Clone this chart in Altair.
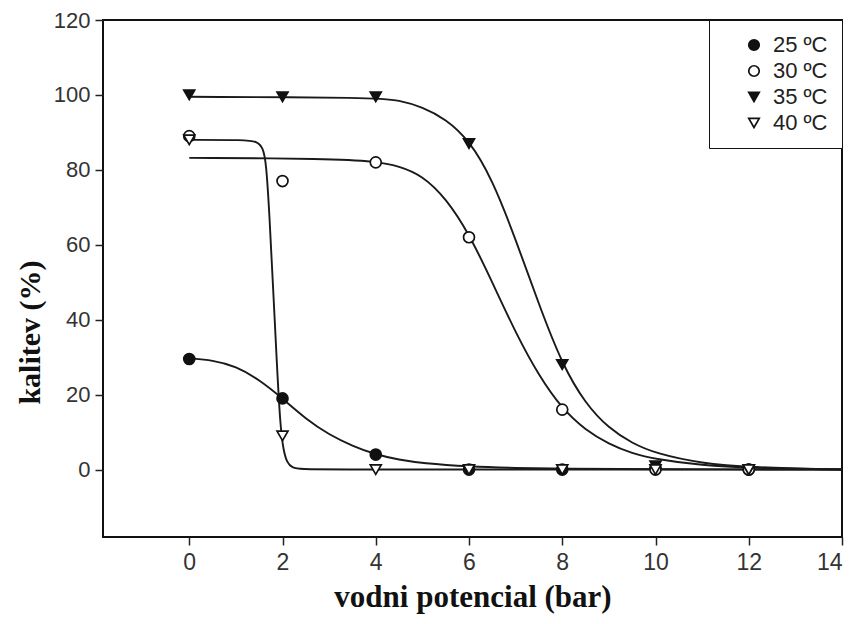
import altair as alt
import pandas as pd

series_names = ["25 ºC", "30 ºC", "35 ºC", "40 ºC"]

# measured points (x = water potential in bar, y = germination %)
pt_x = [0, 2, 4, 6, 8, 10, 12]
pt_25 = [29.5, 19, 4, 0, 0, 0.5, 0]
pt_30 = [89, 77, 82, 62, 16, 0, 0]
pt_35 = [100, 99.5, 99.5, 87, 28, 1, 0]
pt_40 = [88, 9, 0, 0, 0, 0, 0]

# fitted curves
c25_x = [0, 0.5, 1.0, 1.5, 2.0, 2.5, 3.0, 3.5, 4.0, 4.5, 5.0, 6.0, 7.0, 8.0, 10.0, 14.0]
c25_y = [29.7, 29.2, 27.6, 24.0, 19.0, 13.5, 9.3, 6.3, 4.0, 2.6, 1.7, 0.8, 0.4, 0.2, 0.05, 0]

c30_x = [0, 3.0, 4.0, 4.5, 5.0, 5.5, 6.0, 6.5, 7.0, 7.5, 8.0, 8.5, 9.0, 9.5, 10.0, 11.0, 12.0, 14.0]
c30_y = [83.2, 83.0, 82.3, 81.0, 78.5, 72.5, 63.0, 50.0, 36.5, 25.0, 16.2, 10.5, 6.8, 4.3, 2.8, 1.1, 0.4, 0]

c35_x = [0, 4.0, 4.5, 5.0, 5.5, 6.0, 6.5, 7.0, 7.5, 8.0, 8.5, 9.0, 9.5, 10.0, 11.0, 12.0, 14.0]
c35_y = [99.5, 99.3, 98.6, 96.8, 93.6, 88.0, 77.5, 61.5, 44.0, 28.0, 17.5, 11.0, 7.0, 4.3, 1.6, 0.6, 0]

c40_x = [0, 1.2, 1.45, 1.58, 1.65, 1.72, 1.8, 1.88, 1.95, 2.02, 2.1, 2.2, 2.4, 3.0, 14.0]
c40_y = [88, 88, 87.6, 86, 82, 68, 48, 28, 12, 5, 1.8, 0.5, 0.1, 0, 0]

x_ticks = [0, 2, 4, 6, 8, 10, 12, 14]
y_ticks = [0, 20, 40, 60, 80, 100, 120]

pts = pd.DataFrame(
    [{"series": s, "x": x, "y": y}
     for s, ys in zip(series_names, [pt_25, pt_30, pt_35, pt_40])
     for x, y in zip(pt_x, ys)]
)
curves = pd.DataFrame(
    [{"series": s, "x": x, "y": y}
     for s, xs, ys in zip(series_names, [c25_x, c30_x, c35_x, c40_x], [c25_y, c30_y, c35_y, c40_y])
     for x, y in zip(xs, ys)]
)

xscale = alt.Scale(domain=[-1.85, 14], nice=False, zero=False)
yscale = alt.Scale(domain=[-18, 120], nice=False, zero=False)

xaxis = alt.Axis(values=x_ticks, grid=False, domain=False, ticks=True, tickSize=8,
                 tickColor="#222", tickWidth=1.5, labelFontSize=23, labelFont="Liberation Sans",
                 labelColor="#333", labelPadding=6, title="vodni potencial (bar)",
                 titleFont="Liberation Serif", titleFontSize=31, titleFontWeight="bold",
                 titleColor="#111", titlePadding=8)
yaxis = alt.Axis(values=y_ticks, grid=False, domain=False, ticks=True, tickSize=8,
                 tickColor="#222", tickWidth=1.5, labelFontSize=22, labelFont="Liberation Sans",
                 labelColor="#333", labelPadding=5, title="kalitev (%)",
                 titleFont="Liberation Serif", titleFontSize=30, titleFontWeight="bold",
                 titleColor="#111", titlePadding=8, titleY=312)

lines = alt.Chart(curves).mark_line(interpolate="basis", color="#1a1a1a", strokeWidth=1.9).encode(
    x=alt.X("x:Q", scale=xscale, axis=xaxis),
    y=alt.Y("y:Q", scale=yscale, axis=yaxis),
    detail="series:N",
    order="x:Q",
)

points = alt.Chart(pts).mark_point(filled=True, strokeWidth=1.7, opacity=1, size=120).encode(
    x=alt.X("x:Q", scale=xscale),
    y=alt.Y("y:Q", scale=yscale),
    shape=alt.Shape("series:N",
                    scale=alt.Scale(domain=series_names,
                                    range=["circle", "circle", "triangle-down", "triangle-down"]),
                    legend=alt.Legend(title=None)),
    fill=alt.Fill("series:N",
                  scale=alt.Scale(domain=series_names, range=["#111", "white", "#111", "white"]),
                  legend=alt.Legend(title=None)),
    stroke=alt.Stroke("series:N",
                      scale=alt.Scale(domain=series_names, range=["#111", "#111", "#111", "#111"]),
                      legend=alt.Legend(title=None)),
)

chart = (lines + points).properties(
    width=739, height=517,
    autosize=alt.AutoSizeParams(type="none"),
    padding={"left": 95, "top": 12, "right": 5, "bottom": 85},
).configure_view(
    stroke="#111", strokeWidth=2
).configure_legend(
    orient="top-right", offset=0, padding=14, strokeColor="#111", fillColor="white",
    labelFontSize=22, labelFont="Liberation Sans", labelColor="#222",
    symbolSize=110, symbolStrokeWidth=1.7, symbolOffset=20,
    rowPadding=4, labelOffset=8
)

chart.save("out.html", embed_options={"renderer": "svg", "actions": False})
